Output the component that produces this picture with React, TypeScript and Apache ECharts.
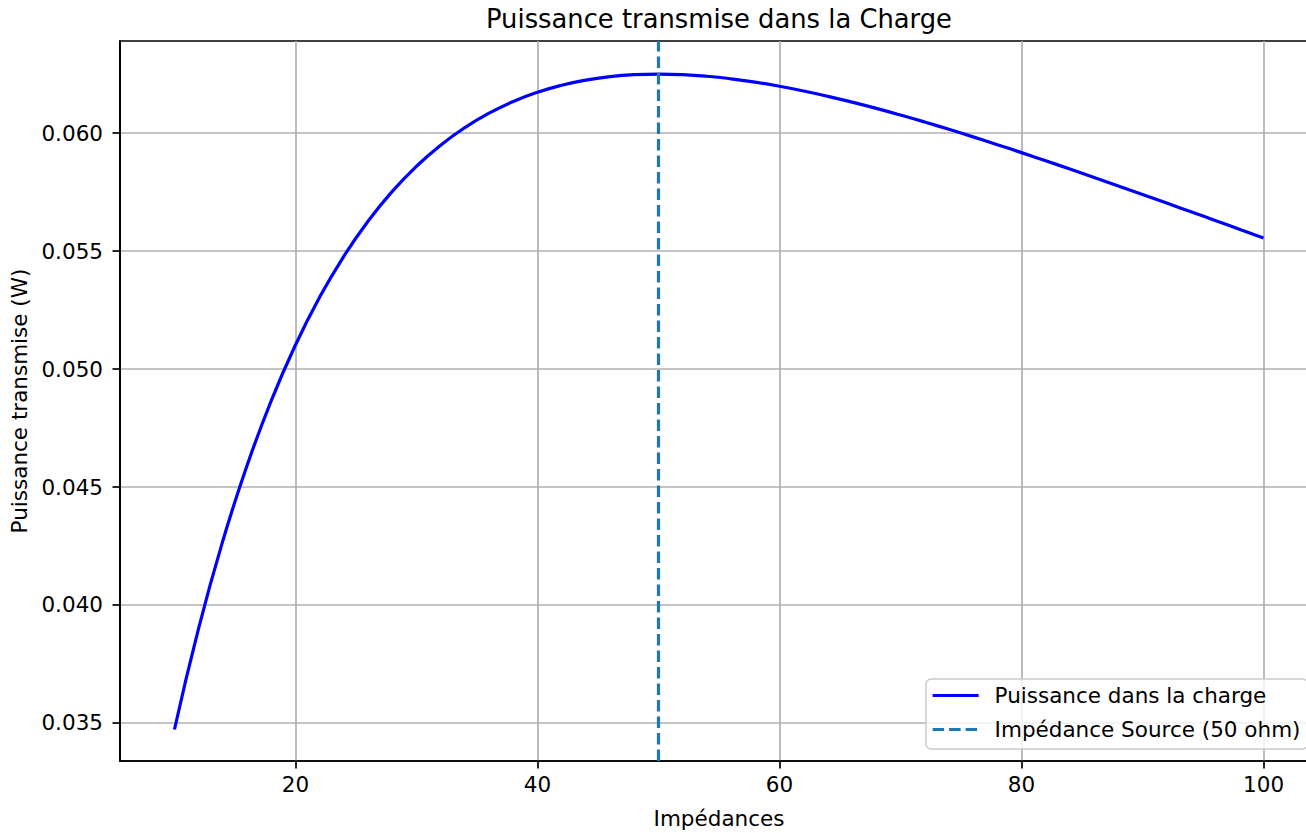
import React, { useEffect, useRef } from "react";
import * as echarts from "echarts";

const impedances = [10, 12, 14, 16, 18, 20, 22, 24, 26, 28, 30, 32, 34, 36, 38, 40, 42, 44, 46, 48, 50, 52, 54, 56, 58, 60, 62, 64, 66, 68, 70, 72, 74, 76, 78, 80, 82, 84, 86, 88, 90, 92, 94, 96, 98, 100];
const puissance = [0.034722, 0.039022, 0.042725, 0.045914, 0.048659, 0.05102, 0.053048, 0.054785, 0.056267, 0.057528, 0.058594, 0.059488, 0.060232, 0.060844, 0.061338, 0.061728, 0.062027, 0.062245, 0.062391, 0.062474, 0.0625, 0.062476, 0.062408, 0.0623, 0.062157, 0.061983, 0.061783, 0.061557, 0.061311, 0.061046, 0.060764, 0.060468, 0.060159, 0.059839, 0.059509, 0.059172, 0.058827, 0.058476, 0.058121, 0.057761, 0.057398, 0.057032, 0.056665, 0.056296, 0.055926, 0.055556];
const sourceImpedance = 50;
const xTicks = [20, 40, 60, 80, 100];
const yTicks = [0.035, 0.04, 0.045, 0.05, 0.055, 0.06];
const X_MIN = 5.5;
const X_MAX = 104.5;
const Y_MIN = 0.033388;
const Y_MAX = 0.063902;

const FONT = "DejaVu Sans";
const FS = 21.5;

export default function App() {
  const ref = useRef<HTMLDivElement>(null);
  useEffect(() => {
    document.body.style.margin = "0";
    const chart = echarts.init(ref.current!, null, { renderer: "svg" });
    const curve = impedances.map((x, i) => [x, puissance[i]]);
    chart.setOption({
      animation: false,
      backgroundColor: "#ffffff",
      textStyle: { fontFamily: FONT },
      graphic: [
        {
          type: "text",
          x: 719,
          y: 19,
          style: {
            text: "Puissance transmise dans la Charge",
            fontFamily: FONT,
            fontSize: 25.8,
            fill: "#000",
            textAlign: "center",
            textVerticalAlign: "middle",
          },
        },
      ],
      grid: {
        left: 120,
        top: 41,
        width: 1198,
        height: 720,
        outerBoundsMode: "none",
        containLabel: false,
        show: true,
        borderColor: "#000",
        borderWidth: 1.7,
        backgroundColor: "transparent",
      },
      legend: {
        orient: "vertical",
        left: 926,
        top: 679,
        padding: [5.5, 7, 8.5, 5],
        itemGap: 12,
        itemWidth: 46,
        itemHeight: 21.5,
        backgroundColor: "rgba(255,255,255,0.8)",
        borderColor: "#cccccc",
        borderWidth: 1.6,
        borderRadius: 5,
        itemStyle: { opacity: 0 },
        lineStyle: { width: 3.2 },
        textStyle: {
          fontFamily: FONT,
          fontSize: FS,
          color: "#000",
          lineHeight: 21.5,
          padding: [0, 0, 0, 11],
        },
        data: [
          { name: "Puissance dans la charge" },
          { name: "Impédance Source (50 ohm)" },
        ],
      },
      xAxis: {
        type: "value",
        min: X_MIN,
        max: X_MAX,
        name: "Impédances",
        nameLocation: "middle",
        nameGap: 46,
        nameTextStyle: { fontFamily: FONT, fontSize: FS, color: "#000" },
        axisLine: { show: true, lineStyle: { color: "#000", width: 1.7 } },
        axisTick: { show: true, length: 7.5, lineStyle: { color: "#000", width: 1.7 }, customValues: xTicks },
        axisLabel: { fontFamily: FONT, fontSize: FS, color: "#000", margin: 12, customValues: xTicks },
        splitLine: { show: true, lineStyle: { color: "#b0b0b0", width: 1.7 } },
      },
      yAxis: {
        type: "value",
        min: Y_MIN,
        max: Y_MAX,
        name: "Puissance transmise (W)",
        nameLocation: "middle",
        nameRotate: 90,
        nameGap: 87,
        nameTextStyle: { fontFamily: FONT, fontSize: FS, color: "#000" },
        axisLine: { show: true, lineStyle: { color: "#000", width: 1.7 } },
        axisTick: { show: true, length: 7.5, lineStyle: { color: "#000", width: 1.7 }, customValues: yTicks },
        axisLabel: {
          fontFamily: FONT,
          fontSize: FS,
          color: "#000",
          margin: 17,
          customValues: yTicks,
          formatter: (v: number) => v.toFixed(3),
        },
        splitLine: { show: true, lineStyle: { color: "#b0b0b0", width: 1.7 } },
      },
      series: [
        {
          name: "Puissance dans la charge",
          type: "line",
          data: curve,
          smooth: true,
          symbol: "none",
          lineStyle: { color: "#0000ff", width: 3.2 },
          itemStyle: { color: "#0000ff" },
        },
        {
          name: "Impédance Source (50 ohm)",
          type: "line",
          data: [
            [sourceImpedance, Y_MIN],
            [sourceImpedance, Y_MAX],
          ],
          symbol: "none",
          lineStyle: { color: "#1f77b4", width: 3.2, type: [11.5, 5] },
          itemStyle: { color: "#1f77b4" },
        },
      ],
    });
    return () => chart.dispose();
  }, []);
  return <div ref={ref} style={{ width: 1306, height: 833 }} />;
}
